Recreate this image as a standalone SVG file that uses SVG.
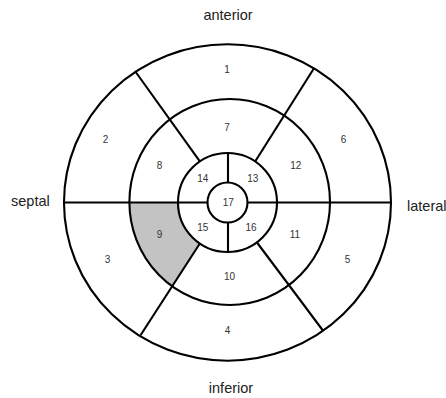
<svg xmlns="http://www.w3.org/2000/svg" width="446" height="398" viewBox="0 0 446 398">
<style>
.ln{stroke:#000;stroke-width:2.1;fill:none}
.num{font-family:"Liberation Sans",Arial,sans-serif;font-size:10px;fill:#333;text-anchor:middle}
.lbl{font-family:"Liberation Sans",Arial,sans-serif;font-size:14.5px;fill:#222}
</style>
<rect width="446" height="398" fill="#fff"/>
<g id="shade-9">
<path d="M129.4,202 A100.3,103 0 0 0 171.7,286 L200,243.3 A49.5,49.5 0 0 1 178,202.5 Z" fill="#c3c3c3"/>
</g>
<g id="rings">
<ellipse class="ln" cx="227.5" cy="202.5" rx="163.5" ry="158.2"/>
<ellipse class="ln" cx="229.7" cy="202" rx="100.3" ry="103"/>
<circle class="ln" cx="227.5" cy="202.5" r="49.5"/>
<circle class="ln" cx="227.5" cy="202.5" r="20"/>
</g>
<g id="connectors">
<line class="ln" x1="64" y1="202.5" x2="207.5" y2="202.5"/>
<line class="ln" x1="247.5" y1="202.5" x2="391" y2="202.5"/>
<line class="ln" x1="135" y1="71" x2="200" y2="161.7"/>
<line class="ln" x1="314.3" y1="67.7" x2="255" y2="161.7"/>
<line class="ln" x1="140.7" y1="335" x2="200" y2="243.3"/>
<line class="ln" x1="323.3" y1="331" x2="257" y2="242.5"/>
<line class="ln" x1="228" y1="153" x2="228" y2="182.5"/>
<line class="ln" x1="228" y1="222.5" x2="228" y2="252"/>
</g>
<g id="labels">
<text class="num" x="227" y="73">1</text>
<text class="num" x="105.5" y="142.6">2</text>
<text class="num" x="107.5" y="263">3</text>
<text class="num" x="227.5" y="333.6">4</text>
<text class="num" x="347.5" y="263">5</text>
<text class="num" x="343.5" y="142.6">6</text>
<text class="num" x="227" y="130.6">7</text>
<text class="num" x="159.5" y="169.3">8</text>
<text class="num" x="159.5" y="237.6">9</text>
<text class="num" x="229.5" y="279.6">10</text>
<text class="num" x="295" y="237.6">11</text>
<text class="num" x="295.7" y="169.3">12</text>
<text class="num" x="252.7" y="182">13</text>
<text class="num" x="202.7" y="182">14</text>
<text class="num" x="202.7" y="231">15</text>
<text class="num" x="251" y="231">16</text>
<text class="num" x="228.3" y="206">17</text>
<text class="lbl" x="228" y="20" text-anchor="middle">anterior</text>
<text class="lbl" x="11" y="206">septal</text>
<text class="lbl" x="407" y="211">lateral</text>
<text class="lbl" x="231" y="393" text-anchor="middle">inferior</text>
</g>
</svg>
